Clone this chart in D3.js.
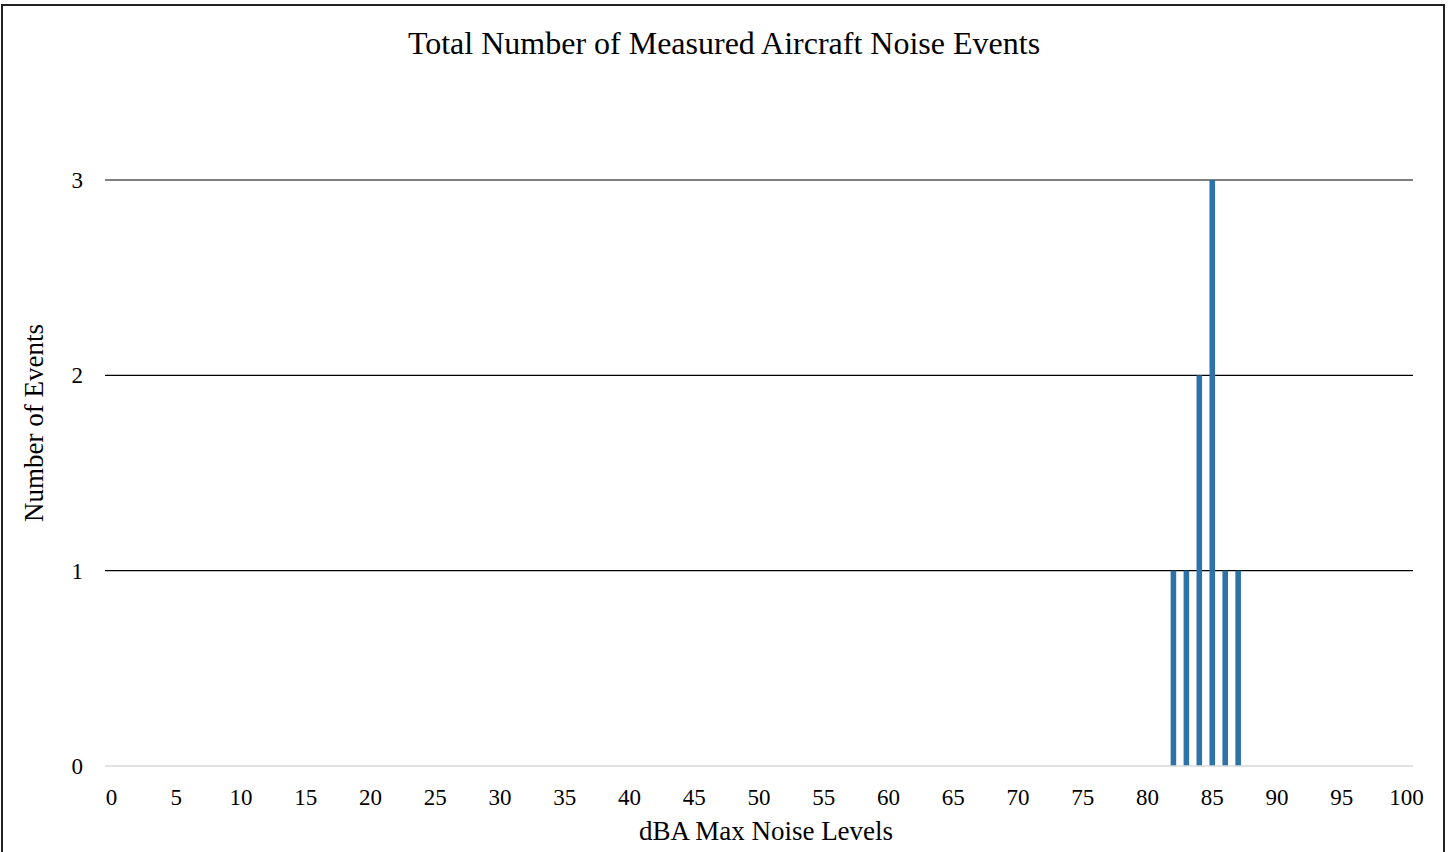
<!DOCTYPE html>
<html><head><meta charset="utf-8">
<script src="https://cdn.jsdelivr.net/npm/d3@7"></script>
<style>html,body{margin:0;padding:0;background:#fff;}svg{display:block;}</style>
</head><body>
<svg id="chart" width="1456" height="852"></svg>
<script>
const categories = d3.range(0, 101);
const eventLevels = [82, 83, 84, 85, 86, 87];
const eventCounts = [1, 1, 2, 3, 1, 1];
const yTicks = [0, 1, 2, 3];
const xTickLabels = d3.range(0, 101, 5);
const title = "Total Number of Measured Aircraft Noise Events";
const xTitle = "dBA Max Noise Levels";
const yTitle = "Number of Events";

const countMap = new Map(eventLevels.map((l, i) => [l, eventCounts[i]]));
const data = categories.map(c => ({cat: c, value: countMap.get(c) || 0}));

const svg = d3.select("#chart");
const font = "'Liberation Serif', 'Times New Roman', serif";
const plotLeft = 105, plotRight = 1413, plotTop = 180, plotBottom = 766;

svg.append("rect").attr("x", 2).attr("y", 5).attr("width", 1442).attr("height", 860)
  .attr("fill", "#fff").attr("stroke", "#222").attr("stroke-width", 2);

const x = d3.scaleBand().domain(categories).range([plotLeft, plotRight]).paddingInner(0.57).paddingOuter(0.285);
const y = d3.scaleLinear().domain([0, 3]).range([plotBottom, plotTop]);

// gridlines
svg.append("g").selectAll("line").data(yTicks.filter(t => t > 0)).join("line")
  .attr("x1", plotLeft).attr("x2", plotRight).attr("y1", d => y(d)).attr("y2", d => y(d))
  .attr("stroke", "#000").attr("stroke-width", 1.2);

// bars
svg.append("g").selectAll("rect").data(data.filter(d => d.value > 0)).join("rect")
  .attr("x", d => x(d.cat)).attr("width", x.bandwidth())
  .attr("y", d => y(d.value)).attr("height", d => y(0) - y(d.value))
  .attr("fill", "#2d72a8");

// baseline
svg.append("line").attr("x1", plotLeft).attr("x2", plotRight).attr("y1", y(0)).attr("y2", y(0))
  .attr("stroke", "#d9d9d9").attr("stroke-width", 1.5);

// y axis labels
const yAxis = d3.axisLeft(y).tickValues(yTicks).tickSize(0).tickPadding(0).tickFormat(d3.format("d"));
const gy = svg.append("g").attr("transform", `translate(${83},0)`).call(yAxis);
gy.select(".domain").remove();
gy.selectAll("text").attr("font-family", font).attr("font-size", 23).attr("fill", "#000");

// x axis labels
const xAxis = d3.axisBottom(x).tickValues(xTickLabels).tickSize(0).tickPadding(0);
const gx = svg.append("g").attr("transform", `translate(0,${789})`).call(xAxis);
gx.select(".domain").remove();
gx.selectAll("text").attr("font-family", font).attr("font-size", 23).attr("fill", "#000");

svg.append("text").attr("x", 724).attr("y", 54).attr("text-anchor", "middle")
  .attr("font-family", font).attr("font-size", 32).attr("fill", "#000").text(title);
svg.append("text").attr("x", 766).attr("y", 840).attr("text-anchor", "middle")
  .attr("font-family", font).attr("font-size", 27).attr("fill", "#000").text(xTitle);
svg.append("text").attr("transform", `translate(43,${423}) rotate(-90)`).attr("text-anchor", "middle")
  .attr("font-family", font).attr("font-size", 27).attr("fill", "#000").text(yTitle);
</script>
</body></html>
